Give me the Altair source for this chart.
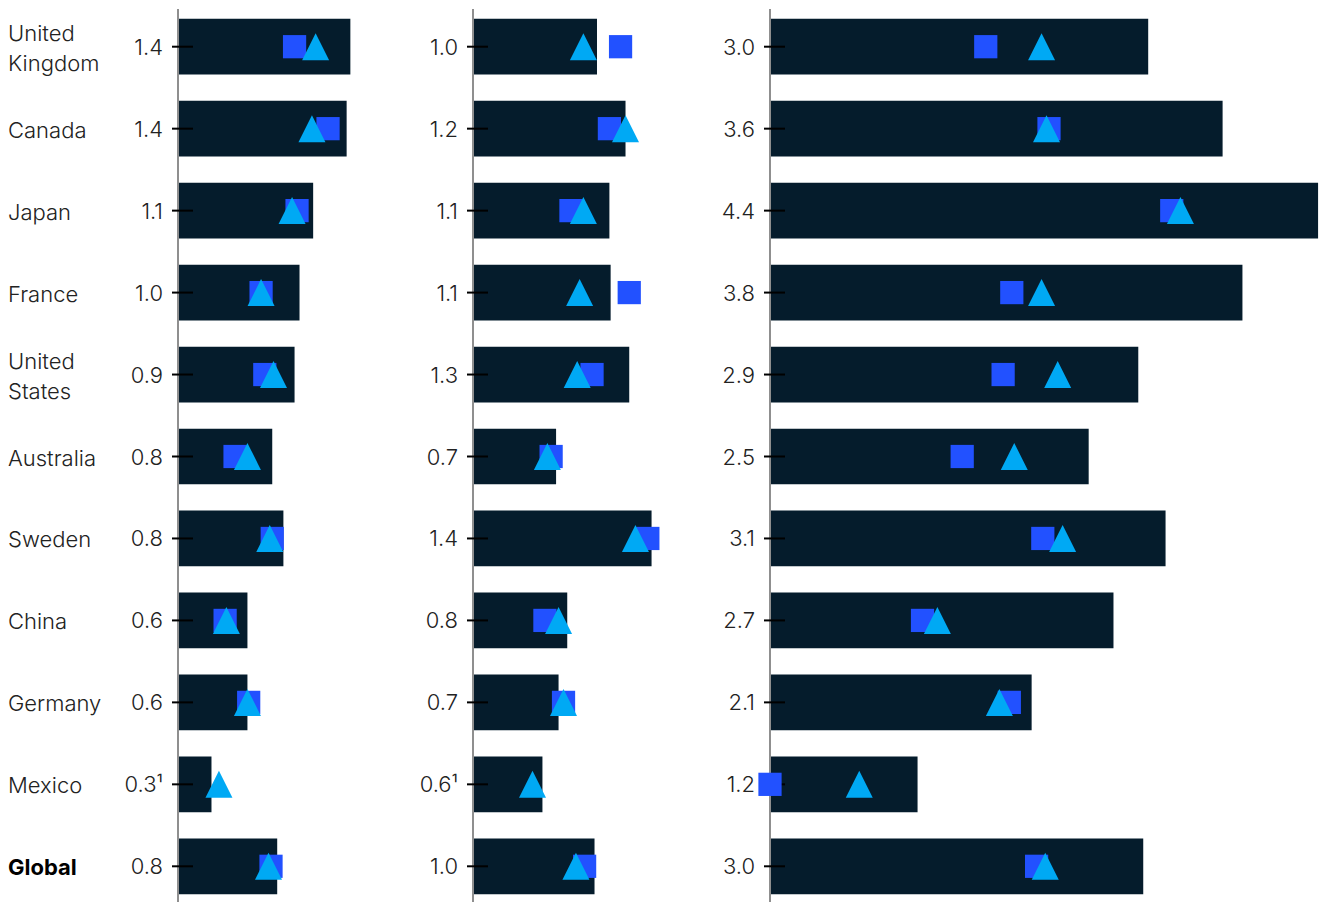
import altair as alt
import pandas as pd

countries = ["United Kingdom", "Canada", "Japan", "France", "United States",
             "Australia", "Sweden", "China", "Germany", "Mexico", "Global"]
names = ["United\nKingdom", "Canada", "Japan", "France", "United\nStates",
         "Australia", "Sweden", "China", "Germany", "Mexico", "Global"]

# Panel 1
p1_bar = [1.39, 1.36, 1.09, 0.98, 0.94, 0.76, 0.85, 0.56, 0.56, 0.27, 0.80]
p1_label = ["1.4", "1.4", "1.1", "1.0", "0.9", "0.8", "0.8", "0.6", "0.6", "0.3¹", "0.8"]
p1_square = [0.94, 1.21, 0.96, 0.67, 0.70, 0.46, 0.76, 0.38, 0.57, None, 0.75]
p1_triangle = [1.11, 1.08, 0.92, 0.67, 0.77, 0.56, 0.74, 0.39, 0.56, 0.33, 0.73]

# Panel 2
p2_bar = [1.00, 1.23, 1.10, 1.11, 1.26, 0.67, 1.44, 0.76, 0.69, 0.56, 0.98]
p2_label = ["1.0", "1.2", "1.1", "1.1", "1.3", "0.7", "1.4", "0.8", "0.7", "0.6¹", "1.0"]
p2_square = [1.19, 1.10, 0.79, 1.26, 0.96, 0.63, 1.41, 0.58, 0.73, None, 0.90]
p2_triangle = [0.89, 1.23, 0.89, 0.86, 0.84, 0.60, 1.31, 0.69, 0.73, 0.48, 0.83]

# Panel 3
p3_bar = [3.05, 3.65, 4.42, 3.81, 2.97, 2.57, 3.19, 2.77, 2.11, 1.19, 3.01]
p3_label = ["3.0", "3.6", "4.4", "3.8", "2.9", "2.5", "3.1", "2.7", "2.1", "1.2", "3.0"]
p3_square = [1.74, 2.25, 3.24, 1.95, 1.88, 1.55, 2.20, 1.23, 1.93, 0.0, 2.15]
p3_triangle = [2.19, 2.23, 3.31, 2.19, 2.32, 1.97, 2.36, 1.35, 1.85, 0.72, 2.22]

NAVY = "#051c2c"
SQ = "#2251ff"
TRI = "#00a9f4"
K = 124.0  # pixels per unit
FONT = "Inter"
TRI_PATH = "M0,-1L1,1L-1,1Z"


def panel(bar, label, sq, tri, width, left, dmax, with_names=False):
    df = pd.DataFrame({
        "country": countries,
        "name": names,
        "bar": bar,
        "label": label,
        "square": sq,
        "triangle": tri,
    })
    xs = alt.Scale(domain=[0, dmax], range=[left, left + K * dmax], nice=False, zero=True)
    y = alt.Y("country:N", sort=countries,
              scale=alt.Scale(paddingInner=0.32, paddingOuter=0.12), axis=None)
    base = alt.Chart(df)
    bars = base.mark_bar(color=NAVY).encode(
        x=alt.X("bar:Q", scale=xs, axis=None), y=y)
    axis_line = base.mark_rule(color="#8f8f8f", strokeWidth=2).encode(
        x=alt.X(datum=0, type="quantitative", scale=xs, axis=None))
    ticks = base.mark_rule(color="#000000", strokeWidth=2, xOffset=-6, x2Offset=15).encode(
        x=alt.X(datum=0, type="quantitative", scale=xs, axis=None),
        x2=alt.X2(datum=0), y=y)
    vals = base.mark_text(align="right", baseline="middle", dx=-15, dy=1, fontSize=22,
                          font=FONT, fontWeight=300, color="#222222").encode(
        x=alt.X(datum=0, type="quantitative", scale=xs, axis=None), y=y, text="label:N")
    squares = base.mark_point(shape="square", size=540, filled=True, opacity=1,
                              color=SQ).encode(
        x=alt.X("square:Q", scale=xs, axis=None), y=y)
    tris = base.mark_point(shape=TRI_PATH, size=729, filled=True, opacity=1,
                           color=TRI).encode(
        x=alt.X("triangle:Q", scale=xs, axis=None), y=y)
    layers = [bars, axis_line, ticks, vals, squares, tris]
    if with_names:
        one = base.transform_filter(
            "indexof(datum.name, '\\n') < 0 && datum.country != 'Global'").mark_text(
            align="left", baseline="middle", fontSize=22, font=FONT, fontWeight=300,
            color="#222222", dy=2).encode(x=alt.value(0), y=y, text="name:N")
        two = base.transform_filter("indexof(datum.name, '\\n') >= 0").mark_text(
            align="left", baseline="middle", fontSize=22, font=FONT, fontWeight=300,
            color="#222222", lineBreak="\n", lineHeight=30, dy=-13).encode(
            x=alt.value(0), y=y, text="name:N")
        gl = base.transform_filter(alt.datum.country == "Global").mark_text(
            align="left", baseline="middle", fontSize=22, font=FONT, color="#000000",
            fontWeight="bold", dy=2).encode(
            x=alt.value(0), y=y, text="name:N")
        layers += [one, two, gl]
    return alt.layer(*layers).properties(width=width, height=895)


c1 = panel(p1_bar, p1_label, p1_square, p1_triangle, 402, 170, 1.8, with_names=True)
c2 = panel(p2_bar, p2_label, p2_square, p2_triangle, 298, 63, 1.8)
c3 = panel(p3_bar, p3_label, p3_square, p3_triangle, 612, 62, 4.5)

chart = alt.hconcat(c1, c2, c3, spacing=0).properties(padding=0).configure_view(
    stroke=None).configure_concat(spacing=0)

chart.save("out.html", embed_options={"renderer": "svg", "actions": False})
